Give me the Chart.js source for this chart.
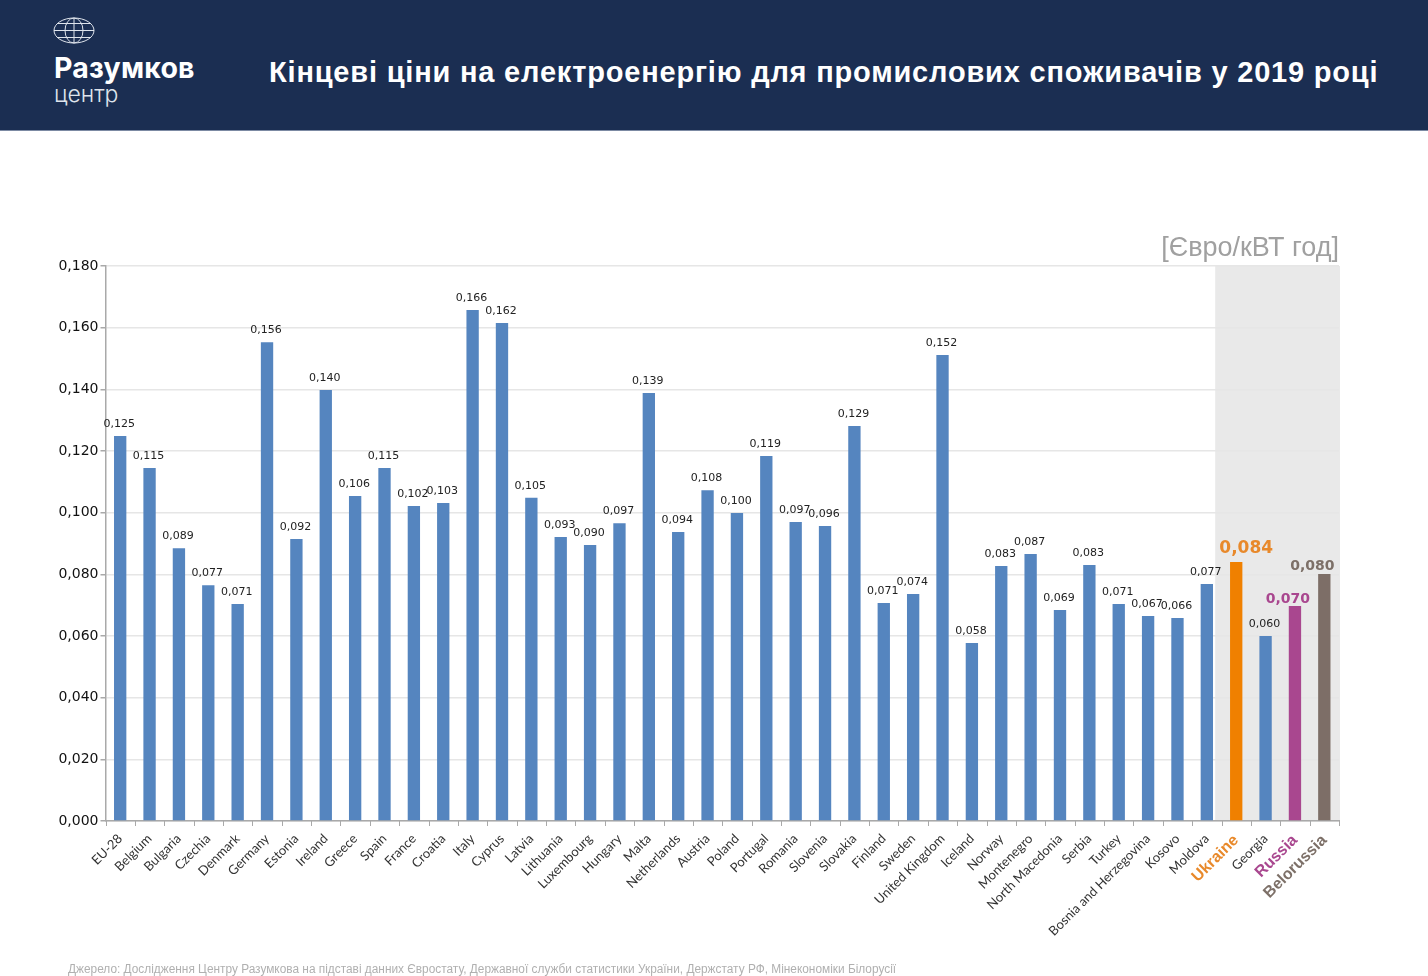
<!DOCTYPE html>
<html lang="uk">
<head>
<meta charset="UTF-8">
<title>Кінцеві ціни на електроенергію</title>
<style>
    body { margin: 0; background: #fff; overflow: hidden; width: 1428px; height: 976px; position: relative; }
    #chart { position: absolute; left: 0; top: 0; }
    header { position: absolute; left: 0; top: 0; width: 1428px; height: 131px; background: #1b2e52; border-bottom: 1px solid #7c8aa3; box-sizing: border-box; color: #fff; }
    header svg { position: absolute; left: 53px; top: 17px; }
    .brand { position: absolute; left: 54px; top: 51px; font: 700 28.5px/34px Inter, sans-serif; letter-spacing: 0.2px; }
    .sub { position: absolute; left: 54px; top: 81px; font: 300 23px/26px Inter, sans-serif; color: #dfe4ec; }
    h1 { position: absolute; left: 269px; top: 54px; margin: 0; font: 700 29px/36px "Liberation Sans", sans-serif; white-space: nowrap; letter-spacing: 0.81px; }
    .unit { position: absolute; right: 89px; top: 232px; font: 27px/30px "Liberation Sans", sans-serif; color: #a0a0a0; }
    .source { position: absolute; left: 68px; top: 962px; font: 11.87px/14px "Liberation Sans", sans-serif; color: #b0b0b0; white-space: nowrap; }
</style>
<script src="https://cdn.jsdelivr.net/npm/chart.js"></script>
</head>
<body>
<canvas id="chart" width="1428" height="976"></canvas>
<header>
    <svg width="44" height="27" viewBox="0 0 44 27" fill="none" stroke="#dfe4ec" stroke-width="1">
        <ellipse cx="21" cy="13.5" rx="20" ry="12.5"/>
        <ellipse cx="21" cy="13.5" rx="9" ry="12.5"/>
        <path d="M21 1V26M1 13.5H41M4 6.5H38M4 20.5H38"/>
    </svg>
    <div class="brand">Разумков</div>
    <div class="sub">центр</div>
    <h1>Кінцеві ціни на електроенергію для промислових споживачів у 2019 році</h1>
</header>
<div class="unit">[Євро/кВТ год]</div>
<div class="source">Джерело: Дослідження Центру Разумкова на підставі данних Євростату, Державної служби статистики України, Держстату РФ, Мінекономіки Білорусії</div>
<script>
    const countries = ['EU-28','Belgium','Bulgaria','Czechia','Denmark','Germany','Estonia','Ireland','Greece','Spain','France','Croatia','Italy','Cyprus','Latvia','Lithuania','Luxembourg','Hungary','Malta','Netherlands','Austria','Poland','Portugal','Romania','Slovenia','Slovakia','Finland','Sweden','United Kingdom','Iceland','Norway','Montenegro','North Macedonia','Serbia','Turkey','Bosnia and Herzegovina','Kosovo','Moldova','Ukraine','Georgia','Russia','Belorussia'];
    // bar heights as measured on the picture
    const prices = [0.1249,0.1145,0.0885,0.0765,0.0704,0.1553,0.0915,0.1398,0.1054,0.1145,0.1022,0.1031,0.1657,0.1615,0.1048,0.0921,0.0895,0.0966,0.1388,0.0937,0.1073,0.0999,0.1184,0.0970,0.0957,0.1281,0.0707,0.0736,0.1511,0.0577,0.0827,0.0866,0.0684,0.0830,0.0704,0.0665,0.0658,0.0769,0.0840,0.0600,0.0697,0.0801];
    // numbers as printed above the bars
    const printed = ['0,125','0,115','0,089','0,077','0,071','0,156','0,092','0,140','0,106','0,115','0,102','0,103','0,166','0,162','0,105','0,093','0,090','0,097','0,139','0,094','0,108','0,100','0,119','0,097','0,096','0,129','0,071','0,074','0,152','0,058','0,083','0,087','0,069','0,083','0,071','0,067','0,066','0,077','0,084','0,060','0,070','0,080'];
    const yTicks = [0,0.02,0.04,0.06,0.08,0.10,0.12,0.14,0.16,0.18];

    // highlighted countries: colours and label tweaks
    const blue = '#5585bf';
    const special = {
        Ukraine: { bar: '#f08000', text: '#e8892b', font: 'bold 17px "DejaVu Sans"', dx: 11, dy: -1 },
        Russia: { bar: '#a9478f', text: '#a9478f', font: 'bold 14px "DejaVu Sans"', dx: -6, dy: 5 },
        Belorussia: { bar: '#7d6e67', text: '#7d7068', font: 'bold 14px "DejaVu Sans"', dx: -11, dy: 4 }
    };
    const comma = v => v.toFixed(3).replace('.', ',');

    const greyBand = {
        id: 'greyBand',
        beforeDraw(chart) {
            const x = chart.scales.x, ctx = chart.ctx, area = chart.chartArea;
            // starts a little left of the Ukraine slot
            const left = x.getPixelForValue(countries.indexOf('Ukraine')) - 21;
            ctx.save();
            ctx.fillStyle = '#e9e9e9';
            ctx.fillRect(left, area.top, area.right + 1 - left, area.bottom - area.top);
            ctx.restore();
        }
    };
    const valueLabels = {
        id: 'valueLabels',
        afterDatasetsDraw(chart) {
            const ctx = chart.ctx;
            ctx.save();
            ctx.textAlign = 'center';
            ctx.textBaseline = 'middle';
            chart.getDatasetMeta(0).data.forEach((bar, i) => {
                const s = special[countries[i]] || {};
                ctx.font = s.font || '11px "DejaVu Sans"';
                ctx.fillStyle = s.text || '#222';
                ctx.fillText(printed[i], bar.x + (s.dx || 0) - 1, bar.y - 12 + (s.dy || 0));
            });
            ctx.restore();
        }
    };

    new Chart(document.getElementById('chart'), {
        type: 'bar',
        data: {
            labels: countries,
            datasets: [{
                data: prices,
                backgroundColor: countries.map(c => special[c] ? special[c].bar : blue),
                barPercentage: 0.42,
                categoryPercentage: 1
            }]
        },
        options: {
            responsive: false,
            animation: false,
            layout: { padding: { left: 0, top: 266, right: 89, bottom: 0 } },
            plugins: { legend: { display: false }, tooltip: { enabled: false }, title: { display: false } },
            scales: {
                x: {
                    afterFit(scale) { scale.height = 155; },
                    grid: { display: false, drawTicks: true },
                    border: { color: '#a9a9a9', width: 1.5 },
                    ticks: {
                        autoSkip: false,
                        maxRotation: 45,
                        minRotation: 45,
                        padding: 2,
                        color: c => special[countries[c.index]] ? special[countries[c.index]].text : '#333',
                        font: c => special[countries[c.index]]
                            ? { family: 'Liberation Sans', size: 16, weight: 'bold' }
                            : { family: 'Lato', size: 13 }
                    }
                },
                y: {
                    min: 0,
                    max: 0.18,
                    afterFit(scale) { scale.width = 105.5; },
                    afterBuildTicks(scale) { scale.ticks = yTicks.map(value => ({ value })); },
                    grid: { color: '#e6e6e6', lineWidth: 1.5, tickColor: '#a9a9a9', tickLength: 5 },
                    border: { color: '#a9a9a9', width: 1.5 },
                    ticks: {
                        padding: 2,
                        color: '#111',
                        font: { family: 'DejaVu Sans', size: 14 },
                        callback: v => comma(v)
                    }
                }
            }
        },
        plugins: [greyBand, valueLabels, {
            // tick marks between the categories, as in the original
            id: 'xTickMarks',
            afterDraw(chart) {
                const x = chart.scales.x, ctx = chart.ctx, b = chart.chartArea.bottom;
                const step = x.getPixelForValue(1) - x.getPixelForValue(0);
                ctx.save();
                ctx.strokeStyle = '#a9a9a9';
                ctx.beginPath();
                countries.concat('').forEach((c, i) => {
                    const px = Math.round(x.getPixelForValue(0) - step / 2 + i * step) + 0.5;
                    ctx.moveTo(px, b);
                    ctx.lineTo(px, b + 5);
                });
                ctx.stroke();
                ctx.restore();
            }
        }]
    });
</script>
</body>
</html>
